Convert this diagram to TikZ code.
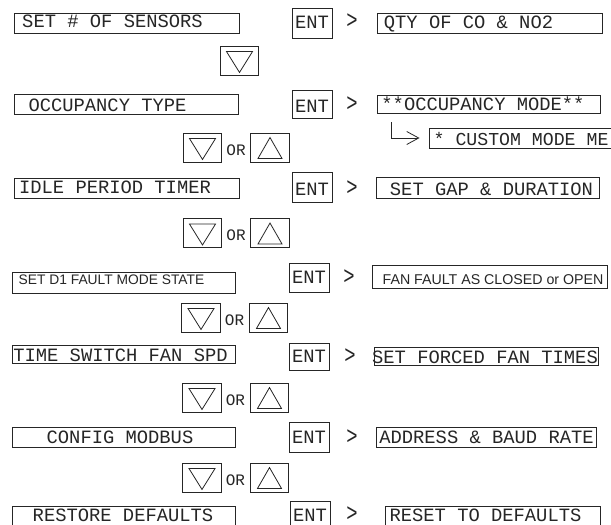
\documentclass[tikz,border=0pt]{standalone}
\usepackage{fontspec}
\usetikzlibrary{calc,arrows.meta}
\newfontfamily\cadfont{Liberation Mono}
\newfontfamily\arialfont{Liberation Sans}
\newcommand\gtsign{\scalebox{1}[1.35]{>}}
\begin{document}
\begin{tikzpicture}[x=1pt,y=-1pt,
  bx/.style={draw=black!85, line width=0.9pt, inner sep=0pt, rectangle},
  btn/.style={bx, minimum width=38.5pt, minimum height=29pt},
  tri/.style={draw=black!85, line width=0.8pt, line join=miter},
  cad/.style={font=\cadfont\fontsize{18.8}{20}\selectfont, inner sep=0pt, anchor=base, text=black!85},
  ortxt/.style={font=\cadfont\fontsize{16}{17}\selectfont, inner sep=0pt, anchor=base, text=black!85},
  ari/.style={font=\arialfont\fontsize{13.8}{15}\selectfont, inner sep=0pt, anchor=base, text=black!85},
  bent/.style={draw=black!85, line width=0.8pt, -{Straight Barb[length=12pt,width=13pt,line width=0.8pt]}}]
\useasboundingbox (0,0) rectangle (611,525);
\fill[white] (0,0) rectangle (611,525);
\clip (0,0) rectangle (611,525);

% ---------- left menu boxes ----------
\node[bx, minimum width=225pt, minimum height=20pt] (L1) at (126.5,23) {};
\node[bx, minimum width=224pt, minimum height=20pt] (L2) at (126,104) {};
\node[bx, minimum width=225pt, minimum height=20pt] (L3) at (126.5,188) {};
\node[bx, minimum width=223pt, minimum height=21pt] (L4) at (123.5,282.5) {};
\node[bx, minimum width=223pt, minimum height=18pt] (L5) at (123.5,354) {};
\node[bx, minimum width=223pt, minimum height=20pt] (L6) at (123.5,437) {};
\node[bx, minimum width=223pt, minimum height=20pt] (L7) at (123.5,516) {};

\node[cad] (L1t) at (112.5,27) {SET \# OF SENSORS};
\node[cad] (L2t) at (107.5,111) {OCCUPANCY TYPE};
\node[cad] (L3t) at (115,193) {IDLE PERIOD TIMER};
\node[ari] (L4t) at (111.5,284) {SET D1 FAULT MODE STATE};
\node[cad] (L5t) at (120.5,361) {TIME SWITCH FAN SPD};
\node[cad] (L6t) at (120,443) {CONFIG MODBUS};
\node[cad] (L7t) at (123,521.5) {RESTORE DEFAULTS};

% ---------- ENT keys ----------
\node[bx, minimum width=40pt, minimum height=30pt] (E1) at (312,23) {};
\node[bx, minimum width=40pt, minimum height=28pt] (E2) at (312,104) {};
\node[bx, minimum width=40pt, minimum height=30pt] (E3) at (312,187) {};
\node[bx, minimum width=40pt, minimum height=29pt] (E4) at (309,277.5) {};
\node[bx, minimum width=40pt, minimum height=27pt] (E5) at (309,356.5) {};
\node[bx, minimum width=40pt, minimum height=30pt] (E6) at (309,437) {};
\node[bx, minimum width=40pt, minimum height=30pt] (E7) at (310,516) {};

\node[cad] (E1t) at (312,28) {ENT};
\node[cad] (E2t) at (312,112) {ENT};
\node[cad] (E3t) at (312,195) {ENT};
\node[cad] (E4t) at (309,283) {ENT};
\node[cad] (E5t) at (309,362) {ENT};
\node[cad] (E6t) at (309,443) {ENT};
\node[cad] (E7t) at (310,521.5) {ENT};

\node[cad] (G1) at (352,28) {\gtsign};
\node[cad] (G2) at (352,111) {\gtsign};
\node[cad] (G3) at (352,195) {\gtsign};
\node[cad] (G4) at (349,284) {\gtsign};
\node[cad] (G5) at (350,363) {\gtsign};
\node[cad] (G6) at (352,444) {\gtsign};
\node[cad] (G7) at (352,521) {\gtsign};

% ---------- right result boxes ----------
\node[bx, minimum width=225pt, minimum height=20pt] (R1) at (489.5,23) {};
\node[bx, minimum width=223pt, minimum height=18pt] (R2) at (488.5,104) {};
\node[bx, minimum width=211pt, minimum height=20pt] (RC) at (534.5,138) {};
\node[bx, minimum width=223pt, minimum height=21pt] (R3) at (487.5,187.5) {};
\node[bx, minimum width=235pt, minimum height=23pt] (R4) at (489.5,276.5) {};
\node[bx, minimum width=224pt, minimum height=18pt] (R5) at (486,356) {};
\node[bx, minimum width=220pt, minimum height=20pt] (R6) at (486,437) {};
\node[bx, minimum width=215pt, minimum height=20pt] (R7) at (492.5,516) {};

\node[cad] (R1t) at (468.5,28) {QTY OF CO \& NO2};
\node[cad] (R2t) at (483,110) {**OCCUPANCY MODE**};
\node[cad, font=\cadfont\fontsize{18.2}{20}\selectfont, anchor=base west] (RCt) at (433.5,145) {* CUSTOM MODE ME};
\node[cad] (R3t) at (491.5,195) {SET GAP \& DURATION};
\node[ari, font=\arialfont\fontsize{14.2}{15}\selectfont] (R4t) at (493,284) {FAN FAULT AS CLOSED or OPEN};
\node[cad] (R5t) at (485,363) {SET FORCED FAN TIMES};
\node[cad] (R6t) at (486.5,443) {ADDRESS \& BAUD RATE};
\node[cad] (R7t) at (485.5,521.5) {RESET TO DEFAULTS};

% custom mode bent arrow
\coordinate (cm) at (391,122);
\draw[bent] (cm) |- ([xshift=-9pt]RC.west);

% ---------- arrow keys ----------
\node[btn] (D1) at (239.5,60.5) {};
\draw[tri] ($(D1.north)+(-13,6)$) -- ++(26,0) -- ($(D1.south)+(0,-3)$) -- cycle;

\foreach \n/\dx/\ux/\ox/\y in {2/202.5/270/236/147.5, 3/202.5/270/236/233, 4/201/268.5/234.5/317.5, 5/202/269.5/235.5/397.5, 6/202/269.5/235.5/477.5}{
  \node[btn] (D\n) at (\dx,\y) {};
  \node[btn] (U\n) at (\ux,\y) {};
  \node[ortxt] (O\n) at (\ox,\y+7.5) {OR};
  \draw[tri] ($(D\n.north)+(-13,6)$) -- ++(26,0) -- ($(D\n.south)+(0,-3)$) -- cycle;
  \draw[tri] ($(U\n.south)+(-12,-4)$) -- ++(24,0) -- ($(U\n.north)+(0,5)$) -- cycle;
}
\end{tikzpicture}
\end{document}
